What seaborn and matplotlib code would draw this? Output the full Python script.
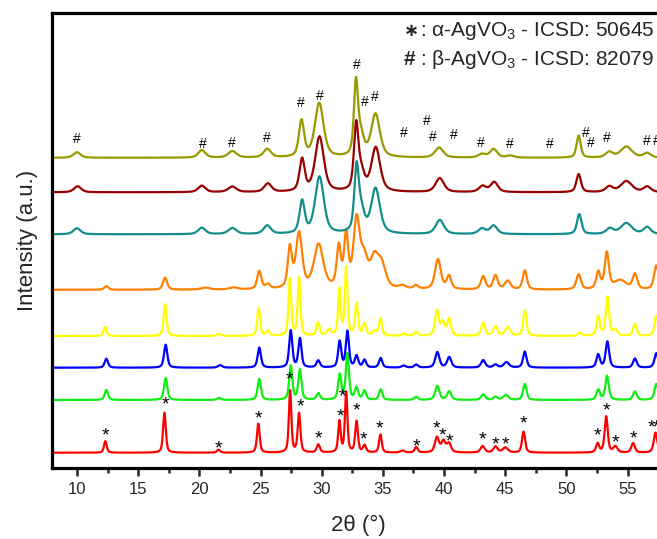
import numpy as np
import pandas as pd
import matplotlib
matplotlib.use("Agg")
import matplotlib.pyplot as plt
import seaborn as sns

# ---------------- data ----------------
samples = ["red", "green", "blue", "yellow", "orange", "teal", "darkred", "olive"]
colors = ["#FF0000", "#11EE11", "#0000FF", "#FFFF00", "#FF8000", "#138C8C", "#990000", "#999900"]
offsets = [15.6, 68.3, 100.6, 132.3, 178.5, 234.0, 276.0, 310.5]

red_pos = [12.32, 17.15, 21.57, 24.82, 27.42, 28.15, 29.72, 31.45, 32.0, 32.85, 33.5, 34.8, 36.6,
           37.72, 39.42, 39.95, 40.4, 43.15, 44.2, 45.0, 46.5, 52.55, 53.25, 54.0, 55.45, 57.28]
red_hgt = [11.5, 40, 3, 29, 62, 39, 8, 31, 60, 31, 7, 18, 2,
           5.5, 15, 11, 9, 6.5, 6, 5, 21, 9, 36, 6, 9.5, 20]
red_wid = [0.13, 0.13, 0.15, 0.13, 0.12, 0.13, 0.15, 0.12, 0.12, 0.13, 0.15, 0.13, 0.2,
           0.15, 0.2, 0.2, 0.2, 0.2, 0.2, 0.25, 0.15, 0.15, 0.15, 0.2, 0.17, 0.17]

green_pos = [12.4, 17.25, 21.6, 24.9, 27.47, 28.22, 29.72, 31.47, 32.1, 32.85, 33.5, 34.82,
             37.72, 39.45, 40.42, 43.2, 44.2, 45.05, 46.6, 52.6, 53.32, 55.6, 57.35]
green_hgt = [10, 22, 2, 21, 34, 30, 6.5, 25, 46, 12, 9, 10.5,
             3, 14, 8.5, 5.5, 3, 5, 16, 10, 24, 8.5, 16]
green_wid = [0.16, 0.16, 0.2, 0.16, 0.15, 0.15, 0.17, 0.15, 0.15, 0.16, 0.16, 0.16,
             0.18, 0.2, 0.2, 0.2, 0.2, 0.25, 0.17, 0.17, 0.17, 0.18, 0.18]

blue_pos = [12.4, 17.25, 21.7, 24.9, 27.47, 28.22, 29.72, 31.47, 32.1, 32.85, 33.5, 34.82,
            36.7, 37.72, 39.45, 40.42, 43.2, 44.2, 45.1, 46.6, 52.6, 53.35, 55.6, 57.35]
blue_hgt = [9, 23, 2.5, 20, 37, 29, 7, 26, 36, 11.5, 7.5, 9.5,
            2, 3, 15.5, 10.5, 7.5, 3, 5.5, 16, 13, 26, 9, 14.5]
blue_wid = [0.16, 0.16, 0.2, 0.16, 0.15, 0.15, 0.17, 0.15, 0.15, 0.16, 0.16, 0.16,
            0.2, 0.18, 0.2, 0.2, 0.2, 0.2, 0.25, 0.17, 0.17, 0.17, 0.18, 0.18]

yellow_pos = [12.3, 17.2, 21.6, 24.85, 25.6, 27.4, 28.15, 29.7, 30.6, 31.45, 32.0, 32.85, 33.5,
              34.3, 34.8, 36.7, 37.72, 39.42, 39.9, 40.42, 43.2, 44.2, 45.2, 46.6, 51.1, 52.6,
              53.35, 54.0, 55.6, 57.35]
yellow_hgt = [9, 32, 2, 28, 5, 57, 58, 13, 6, 46, 68, 32, 12,
              4.5, 17.5, 2, 4, 25, 13, 17, 13, 9.5, 8.5, 25.5, 3, 19.5,
              39, 6, 12, 20.5]
yellow_wid = [0.14, 0.14, 0.2, 0.14, 0.15, 0.13, 0.13, 0.15, 0.2, 0.13, 0.13, 0.14, 0.15,
              0.2, 0.15, 0.2, 0.18, 0.18, 0.18, 0.18, 0.18, 0.2, 0.25, 0.16, 0.2, 0.16,
              0.16, 0.2, 0.17, 0.17]

orange_pos = [12.4, 17.2, 20.5, 22.8, 24.9, 25.6, 27.4, 28.15, 29.75, 31.4, 32.0, 32.85, 33.45,
              34.3, 34.9, 36.6, 37.7, 39.5, 40.4, 43.2, 44.2, 45.2, 46.6, 51.0, 52.6, 53.3,
              54.4, 55.6, 57.35]
orange_hgt = [3.5, 12, 2, 2, 18, 4.5, 40, 55, 44, 40, 52, 66, 28,
              28, 22, 3, 3.5, 30, 13, 13, 14, 8.5, 19, 15, 17, 36,
              9, 15, 24]
orange_wid = [0.2, 0.2, 0.4, 0.4, 0.2, 0.22, 0.2, 0.3, 0.45, 0.2, 0.2, 0.3, 0.35,
              0.4, 0.4, 0.35, 0.22, 0.28, 0.22, 0.22, 0.22, 0.28, 0.2, 0.22, 0.2, 0.2,
              0.6, 0.22, 0.22]

teal_pos = [10.0, 20.2, 22.7, 25.55, 28.4, 29.82, 32.85, 33.25, 34.4, 39.65, 43.1, 44.05,
            51.05, 53.55, 54.9, 56.6]
teal_hgt = [6, 6.5, 6, 8.5, 32, 57, 64, 20, 45, 14, 5.5, 8.5, 20, 5.5, 11, 7]
teal_wid = [0.35, 0.35, 0.4, 0.35, 0.25, 0.42, 0.22, 0.3, 0.42, 0.4, 0.35, 0.35, 0.22, 0.35, 0.55, 0.35]

darkred_pos = [10.05, 20.2, 22.7, 25.6, 28.4, 29.82, 32.82, 33.25, 34.42, 39.65, 43.15, 44.1,
               51.0, 53.5, 54.9, 56.6]
darkred_hgt = [6, 6.5, 5.5, 8.5, 32, 55, 65, 17, 44, 14, 6, 10, 18, 5.5, 11, 5.5]
darkred_wid = [0.35, 0.35, 0.4, 0.35, 0.25, 0.42, 0.22, 0.3, 0.42, 0.4, 0.35, 0.35, 0.22, 0.35, 0.55, 0.35]

olive_pos = [10.0, 20.2, 22.7, 25.55, 28.35, 29.8, 32.8, 33.2, 34.4, 39.6, 43.1, 44.05, 45.4,
             51.0, 53.5, 54.9, 56.6]
olive_hgt = [5.5, 7.5, 6.5, 8.5, 36, 54, 72, 20, 43, 10, 3.5, 8.5, 2, 22, 5.5, 11, 4.5]
olive_wid = [0.35, 0.35, 0.4, 0.35, 0.25, 0.42, 0.2, 0.3, 0.42, 0.4, 0.35, 0.35, 0.35, 0.2, 0.35, 0.55, 0.35]

star_x = [12.32, 17.22, 21.57, 24.84, 27.38, 28.25, 29.75, 31.52, 31.71, 32.83, 33.42, 34.73, 37.73,
          39.42, 39.91, 40.45, 43.15, 44.19, 45.06, 46.5, 52.5, 53.26, 53.99, 55.44, 56.99, 57.4]
star_y = [39, 70, 25.6, 55.6, 95, 67.6, 35.6, 58.3, 77.6, 64, 35, 46, 28.3,
          45.6, 39, 32.6, 35, 30, 30, 51, 39, 64.3, 32.3, 35.6, 46.6, 46.6]
hash_x = [10.0, 20.27, 22.67, 25.53, 28.3, 29.83, 32.83, 33.5, 34.32, 36.75, 38.6, 39.07, 40.78,
          43.02, 45.41, 48.62, 51.6, 52.03, 53.31, 56.53, 57.35]
hash_y = [330, 325, 326.6, 331, 366.6, 373.3, 404.3, 367.3, 372.3, 336.6, 348.3, 332.3, 334,
          326.6, 325, 325, 336.6, 326.6, 331.6, 328.3, 328.3]

xticks = [10, 15, 20, 25, 30, 35, 40, 45, 50, 55]
legend_marks = ["∗", "#"]
legend_lines = [": α-AgVO$_3$ - ICSD: 50645", ": β-AgVO$_3$ - ICSD: 82079"]
xlabel = "2θ (°)"
ylabel = "Intensity (a.u.)"

# ---------------- build profiles ----------------
peaks = {
    "red": (red_pos, red_hgt, red_wid),
    "green": (green_pos, green_hgt, green_wid),
    "blue": (blue_pos, blue_hgt, blue_wid),
    "yellow": (yellow_pos, yellow_hgt, yellow_wid),
    "orange": (orange_pos, orange_hgt, orange_wid),
    "teal": (teal_pos, teal_hgt, teal_wid),
    "darkred": (darkred_pos, darkred_hgt, darkred_wid),
    "olive": (olive_pos, olive_hgt, olive_wid),
}
x = np.linspace(7.96, 58.0, 3001)
eta = 0.55
frames = []
for name, off in zip(samples, offsets):
    pos, hgt, wid = peaks[name]
    y = np.full_like(x, off)
    for p, h, w in zip(pos, hgt, wid):
        d = (x - p) / w
        y += h * (eta / (1 + d ** 2) + (1 - eta) * np.exp(-np.log(2) * d ** 2))
    frames.append(pd.DataFrame({"two_theta": x, "intensity": y, "sample": name}))
df = pd.concat(frames, ignore_index=True)

# ---------------- styling ----------------
sns.set_style("ticks")
plt.rcParams["font.family"] = ["Liberation Sans", "DejaVu Sans"]
plt.rcParams["mathtext.fontset"] = "custom"
plt.rcParams["mathtext.rm"] = "Liberation Sans"
plt.rcParams["mathtext.it"] = "Liberation Sans:italic"
plt.rcParams["mathtext.bf"] = "Liberation Sans:bold"

fig = plt.figure(figsize=(6.57, 5.39), dpi=100)
ax = fig.add_axes([52 / 657, 70.7 / 539, 612.3 / 657, 455.0 / 539])

sns.lineplot(data=df, x="two_theta", y="intensity", hue="sample", palette=dict(zip(samples, colors)),
             hue_order=samples, estimator=None, sort=False, legend=False, linewidth=1.6, ax=ax)

ax.set_xlim(7.96, 58.0)
ax.set_ylim(0, 455)
ax.set_xticks(xticks)
ax.set_xticks(np.arange(12.5, 58, 5), minor=True)
ax.set_yticks([])
for s in ax.spines.values():
    s.set_linewidth(2.3)
    s.set_color("black")
ax.tick_params(axis="x", which="major", length=6, width=1.8, labelsize=12, pad=4, direction="out")
ax.tick_params(axis="x", which="minor", length=3.5, width=1.8, direction="out", bottom=True)
ax.set_xlabel(xlabel, fontsize=16, labelpad=13)
ax.set_ylabel(ylabel, fontsize=16, labelpad=10)

for sx, sy in zip(star_x, star_y):
    ax.annotate("*", xy=(sx, sy), xytext=(0, -8.0), textcoords="offset points",
                ha="center", va="baseline", fontsize=14, color="black")
for hx, hy in zip(hash_x, hash_y):
    ax.annotate("#", xy=(hx, hy), xytext=(0, -3.6), textcoords="offset points",
                ha="center", va="baseline", fontsize=10, color="black")

fig.text(411.5 / 657, (539 - 36) / 539, legend_marks[0], fontsize=13, fontweight="bold",
         family="DejaVu Sans", ha="center", va="baseline")
fig.text(420 / 657, (539 - 36) / 539, legend_lines[0], fontsize=15, ha="left", va="baseline")
fig.text(404 / 657, (539 - 65) / 539, legend_marks[1], fontsize=15, fontweight="bold",
         ha="left", va="baseline")
fig.text(420 / 657, (539 - 65) / 539, legend_lines[1], fontsize=15, ha="left", va="baseline")

fig.savefig("out.png", dpi=100)
